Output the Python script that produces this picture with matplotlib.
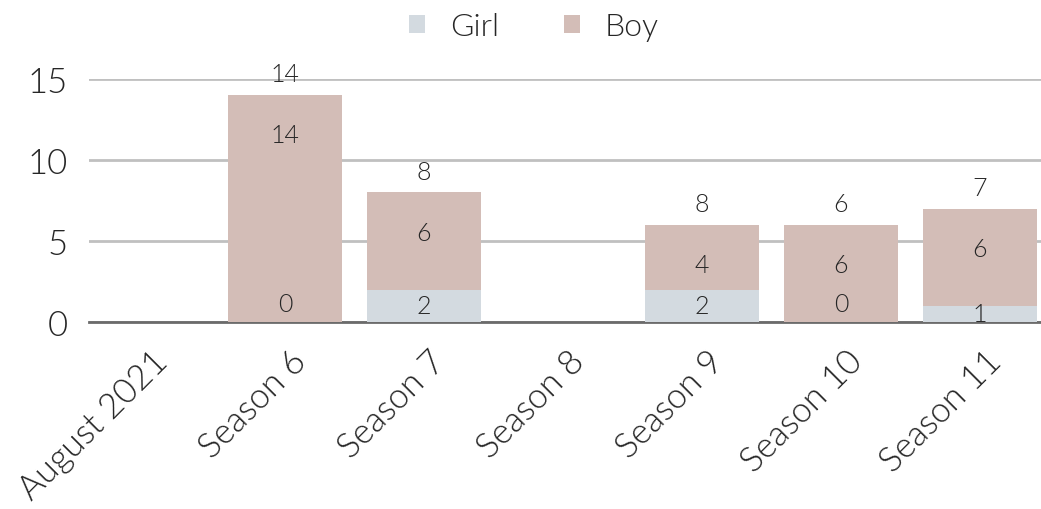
import matplotlib
matplotlib.use("Agg")
import matplotlib.pyplot as plt
import matplotlib.transforms as mtransforms
import numpy as np

categories = ["August 2021", "Season 6", "Season 7", "Season 8", "Season 9", "Season 10", "Season 11"]
girl = [None, 0, 2, None, 2, 0, 1]
boy = [None, 14, 6, None, 4, 6, 6]
totals = [None, 14, 8, None, 8, 6, 7]

GIRL_C = "#d3dae0"
BOY_C = "#d3bdb7"
TEXT_C = "#262626"
FW = 300

plt.rcParams['font.family'] = ['Lato', 'DejaVu Sans']

fig = plt.figure(figsize=(10.41, 5.10), dpi=100)
ax = fig.add_axes([89/1041, 187/510, 1 - 89/1041, (323-80)/510])

x = np.arange(len(categories))
g = np.array([v if v is not None else 0 for v in girl], dtype=float)
b = np.array([v if v is not None else 0 for v in boy], dtype=float)
has = np.array([v is not None for v in girl])

w = 0.82
ax.bar(x[has], g[has], width=w, color=GIRL_C, label="Girl", zorder=2)
ax.bar(x[has], b[has], width=w, bottom=g[has], color=BOY_C, label="Boy", zorder=2)

ax.set_xlim(-0.41, 6.44)
ax.set_ylim(0, 15)
ax.set_yticks([0, 5, 10, 15])
ax.yaxis.grid(True, color="#c0c0c0", linewidth=2, zorder=0)
ax.set_axisbelow(True)
for s in ["top", "right", "left"]:
    ax.spines[s].set_visible(False)
ax.spines["bottom"].set_color("#6b6b6b")
ax.spines["bottom"].set_linewidth(2)
ax.spines["bottom"].set_zorder(1)
ax.tick_params(axis="y", length=0, pad=15, labelsize=25, labelcolor=TEXT_C)
ax.tick_params(axis="x", length=0, pad=4, labelsize=25, labelcolor=TEXT_C)
for lab in ax.get_yticklabels():
    lab.set_fontweight(FW)

ax.set_xticks(x)
ax.set_xticklabels(categories, rotation=45, ha="right", rotation_mode="anchor", fontweight=FW)
offset = mtransforms.ScaledTranslation(5/100, -17/100, fig.dpi_scale_trans)
for lab in ax.get_xticklabels():
    lab.set_transform(lab.get_transform() + offset)

lab_kw = dict(ha="center", fontsize=18, color=TEXT_C, fontweight=FW, zorder=3, clip_on=False)
for i in range(len(categories)):
    if not has[i]:
        continue
    if g[i] > 0:
        ax.annotate(f"{int(g[i])}", (x[i], g[i] / 2), va="center", **lab_kw)
    else:
        ax.annotate(f"{int(g[i])}", (x[i], 0), xytext=(0, 13), textcoords="offset points",
                    va="center", **lab_kw)
    ax.annotate(f"{int(b[i])}", (x[i], g[i] + b[i]), xytext=(0, -29), textcoords="offset points",
                va="center", **lab_kw)
    ax.annotate(f"{int(totals[i])}", (x[i], g[i] + b[i]), xytext=(0, 15), textcoords="offset points",
                va="center", **lab_kw)

leg = fig.legend(loc="upper center", bbox_to_anchor=(0.513, 1.03), ncol=2, frameon=False,
                 fontsize=23, handlelength=0.5, handleheight=0.5, columnspacing=2.0,
                 handletextpad=0.8)
for t in leg.get_texts():
    t.set_fontweight(FW)
    t.set_color(TEXT_C)

fig.savefig("out.png", dpi=100)
